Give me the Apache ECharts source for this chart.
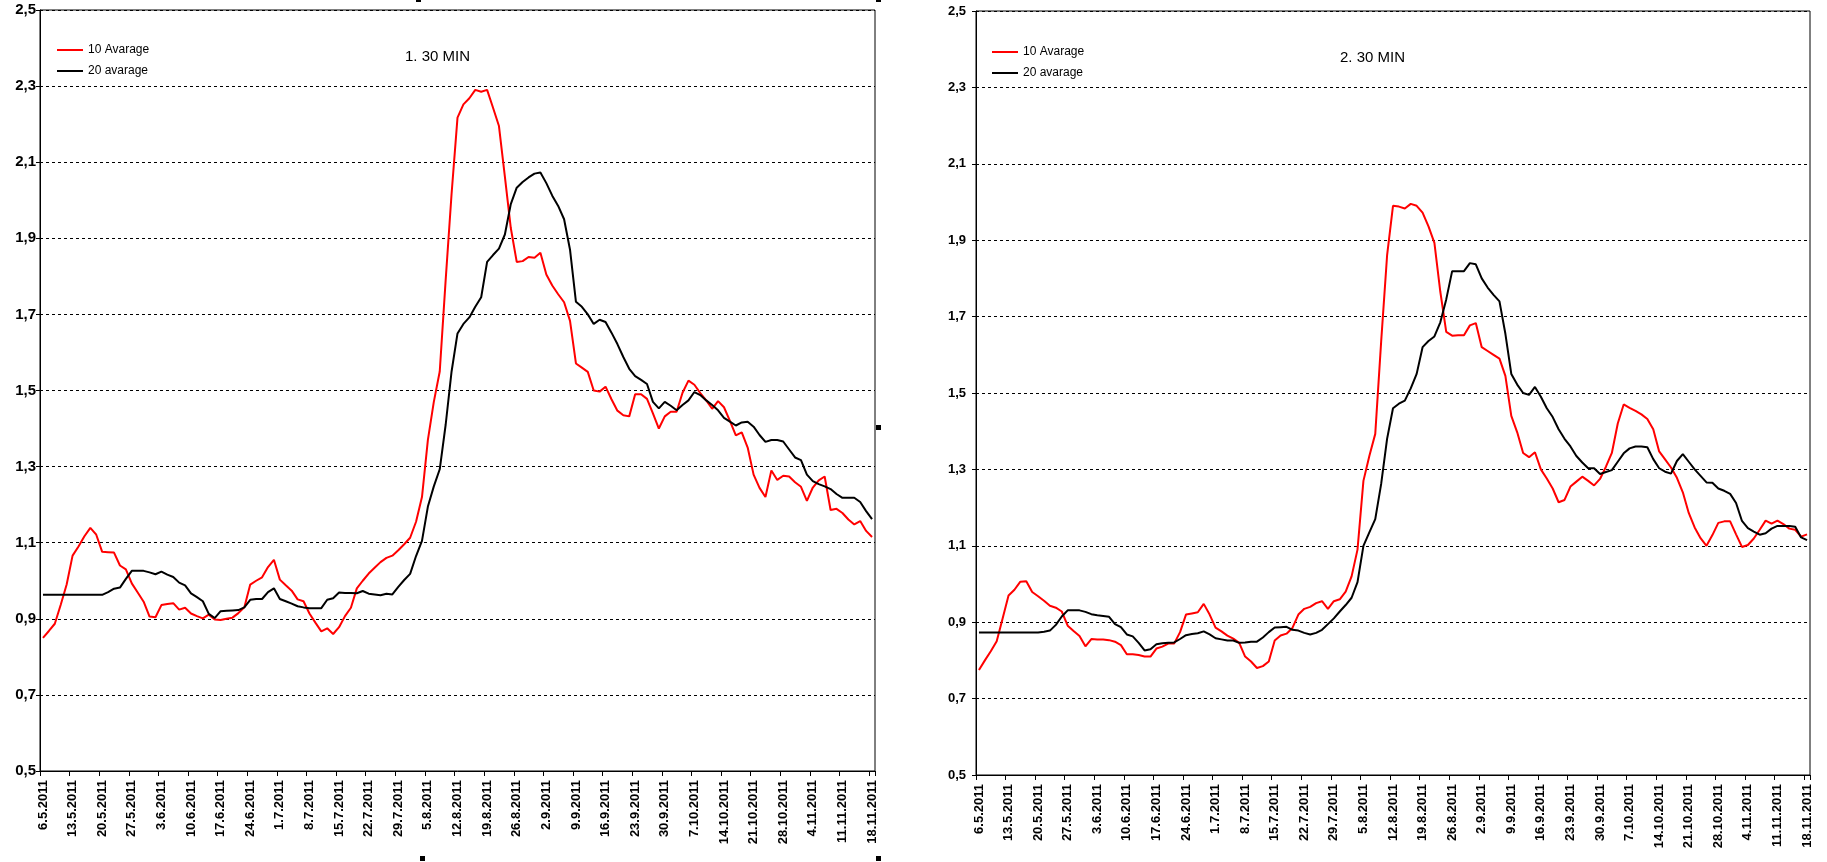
<!DOCTYPE html>
<html>
<head>
<meta charset="utf-8">
<script src="https://cdn.jsdelivr.net/npm/echarts@6/dist/echarts.min.js"></script>
<style>
html,body{margin:0;padding:0;background:#fff;}
#c{width:1827px;height:862px;}
</style>
</head>
<body>
<div id="c"></div>
<script>
// Trading days 6.5.2011 - 18.11.2011 (labels every 5th = Fridays)
const startDate = [2011, 4, 6];
const endDate = [2011, 10, 18];
const seriesNames = ['10 Avarage', '20 avarage'];
const chartTitles = ['1. 30 MIN', '2. 30 MIN'];
const yTicks = [0.5, 0.7, 0.9, 1.1, 1.3, 1.5, 1.7, 1.9, 2.1, 2.3, 2.5];

const left10 = [0.85,0.868,0.887,0.937,0.99,1.066,1.09,1.117,1.139,1.121,
1.076,1.075,1.074,1.04,1.03,0.993,0.969,0.945,0.906,0.904,
0.936,0.939,0.941,0.924,0.929,0.914,0.907,0.901,0.911,0.898,
0.897,0.9,0.903,0.915,0.93,0.99,1.0,1.009,1.036,1.055,
1.003,0.988,0.974,0.951,0.946,0.914,0.89,0.867,0.875,0.86,
0.878,0.907,0.929,0.98,1.0,1.019,1.034,1.049,1.06,1.066,
1.08,1.096,1.113,1.155,1.22,1.37,1.47,1.55,1.79,2.017,
2.217,2.252,2.268,2.29,2.285,2.29,2.243,2.195,2.062,1.927,
1.838,1.84,1.851,1.849,1.862,1.805,1.776,1.753,1.732,1.683,
1.571,1.56,1.549,1.5,1.497,1.51,1.477,1.447,1.435,1.432,
1.49,1.49,1.478,1.44,1.4,1.432,1.444,1.444,1.494,1.526,
1.515,1.493,1.474,1.452,1.472,1.456,1.42,1.382,1.39,1.35,
1.279,1.244,1.22,1.29,1.265,1.276,1.274,1.259,1.247,1.21,
1.245,1.264,1.274,1.186,1.189,1.178,1.161,1.148,1.157,1.131,
1.115];

const left20 = [0.963,0.963,0.963,0.963,0.963,0.963,0.963,0.963,0.963,0.963,
0.963,0.97,0.979,0.982,1.005,1.026,1.026,1.026,1.022,1.017,
1.024,1.016,1.01,0.995,0.988,0.967,0.957,0.946,0.913,0.902,
0.92,0.921,0.922,0.923,0.93,0.95,0.952,0.952,0.97,0.98,
0.952,0.946,0.94,0.933,0.93,0.928,0.928,0.928,0.95,0.954,
0.969,0.968,0.968,0.967,0.973,0.966,0.964,0.962,0.966,0.964,
0.984,1.002,1.018,1.065,1.105,1.195,1.248,1.293,1.41,1.55,
1.65,1.675,1.692,1.72,1.745,1.838,1.856,1.873,1.91,1.99,
2.033,2.048,2.06,2.07,2.073,2.045,2.012,1.985,1.95,1.87,
1.733,1.72,1.7,1.675,1.686,1.68,1.652,1.622,1.588,1.557,
1.538,1.528,1.517,1.47,1.453,1.47,1.46,1.448,1.462,1.474,
1.496,1.488,1.474,1.462,1.448,1.428,1.418,1.408,1.416,1.418,
1.405,1.383,1.365,1.37,1.37,1.366,1.345,1.324,1.317,1.279,
1.262,1.254,1.248,1.241,1.228,1.218,1.218,1.218,1.207,1.183,
1.162];

const right10 = [0.775,0.8,0.824,0.85,0.91,0.97,0.985,1.006,1.007,0.979,
0.968,0.956,0.943,0.938,0.928,0.891,0.877,0.864,0.837,0.856,
0.855,0.855,0.853,0.849,0.84,0.816,0.816,0.814,0.81,0.81,
0.831,0.836,0.844,0.844,0.874,0.92,0.923,0.926,0.948,0.92,
0.886,0.876,0.865,0.857,0.846,0.81,0.797,0.78,0.785,0.797,
0.852,0.865,0.87,0.885,0.92,0.935,0.94,0.95,0.955,0.935,
0.955,0.96,0.98,1.02,1.09,1.27,1.335,1.393,1.635,1.86,
1.99,1.988,1.983,1.995,1.99,1.972,1.936,1.893,1.765,1.66,
1.65,1.651,1.651,1.677,1.683,1.62,1.61,1.6,1.59,1.545,
1.44,1.397,1.343,1.332,1.345,1.3,1.276,1.25,1.214,1.22,
1.255,1.268,1.281,1.27,1.258,1.275,1.307,1.343,1.42,1.47,
1.461,1.453,1.444,1.432,1.405,1.347,1.326,1.305,1.278,1.24,
1.186,1.148,1.12,1.1,1.128,1.16,1.164,1.164,1.13,1.097,
1.102,1.119,1.142,1.166,1.158,1.166,1.157,1.145,1.142,1.124,
1.13];

const right20 = [0.873,0.873,0.873,0.873,0.873,0.873,0.873,0.873,0.873,0.873,
0.873,0.875,0.878,0.893,0.915,0.931,0.931,0.931,0.927,0.921,
0.918,0.916,0.914,0.895,0.887,0.868,0.863,0.846,0.826,0.829,
0.842,0.845,0.846,0.847,0.856,0.866,0.869,0.871,0.876,0.868,
0.858,0.855,0.852,0.852,0.846,0.847,0.849,0.849,0.86,0.874,
0.886,0.887,0.888,0.88,0.878,0.872,0.868,0.872,0.88,0.895,
0.91,0.928,0.945,0.964,1.005,1.1,1.135,1.17,1.262,1.38,
1.46,1.472,1.48,1.512,1.55,1.62,1.636,1.648,1.685,1.745,
1.819,1.819,1.819,1.84,1.837,1.8,1.776,1.757,1.74,1.655,
1.55,1.522,1.5,1.495,1.516,1.49,1.46,1.437,1.405,1.38,
1.36,1.335,1.318,1.303,1.303,1.288,1.293,1.298,1.32,1.342,
1.355,1.36,1.36,1.358,1.327,1.303,1.294,1.289,1.322,1.34,
1.32,1.3,1.283,1.266,1.265,1.25,1.244,1.236,1.212,1.165,
1.146,1.137,1.129,1.133,1.145,1.152,1.152,1.152,1.15,1.122,
1.115];

function buildCategories() {
  const out = [];
  const d = new Date(Date.UTC(startDate[0], startDate[1], startDate[2]));
  const end = new Date(Date.UTC(endDate[0], endDate[1], endDate[2]));
  while (d <= end) {
    const wd = d.getUTCDay();
    if (wd !== 0 && wd !== 6) {
      out.push(d.getUTCDate() + '.' + (d.getUTCMonth() + 1) + '.' + d.getUTCFullYear());
    }
    d.setUTCDate(d.getUTCDate() + 1);
  }
  return out;
}
const categories = buildCategories();

const FONT = "'Liberation Sans', Arial, sans-serif";
const RED = '#ff0000';
const BLACK = '#000000';

function xAxisCfg(gi) {
  return {
    type: 'category', gridIndex: gi, data: categories, boundaryGap: true,
    axisLine: { show: true, lineStyle: { color: '#000', width: 1 } },
    axisTick: { show: true, interval: 4, length: 5, lineStyle: { color: '#000' } },
    axisLabel: { interval: 4, rotate: 90, margin: 9, color: '#000',
      fontFamily: FONT, fontWeight: 'bold', fontSize: 13 },
    splitLine: { show: false }
  };
}
function yAxisCfg(gi, fs, margin) {
  return {
    type: 'value', gridIndex: gi, min: yTicks[0], max: yTicks[yTicks.length - 1], interval: 0.2,
    axisLine: { show: true, lineStyle: { color: '#000', width: 1 } },
    axisTick: { show: true, length: 4, lineStyle: { color: '#000' } },
    axisLabel: { margin: margin, color: '#000', fontFamily: FONT, fontWeight: 'bold', fontSize: fs,
      formatter: v => v.toFixed(1).replace('.', ',') },
    splitLine: { show: true, lineStyle: { color: '#000', width: 1, type: [3, 3] } }
  };
}
function lineSeries(name, data, color, gi) {
  return {
    type: 'line', name: name, data: data, xAxisIndex: gi, yAxisIndex: gi,
    symbol: 'none', smooth: false, color: color,
    itemStyle: { color: color },
    lineStyle: { color: color, width: 2 },
    emphasis: { disabled: true }
  };
}
function legendCfg(left, top) {
  return {
    show: true, orient: 'vertical', left: left, top: top, padding: 0,
    icon: 'rect', itemWidth: 26, itemHeight: 2, itemGap: 7,
    data: seriesNames,
    textStyle: { color: '#000', fontFamily: FONT, fontSize: 12, lineHeight: 14 }
  };
}

const chart = echarts.init(document.getElementById('c'), null, { renderer: 'canvas' });
chart.setOption({
  backgroundColor: '#fff',
  animation: false,
  title: [
    { text: chartTitles[0], left: 400, top: 44, textStyle: { color: '#000', fontFamily: FONT, fontSize: 15, fontWeight: 'normal' } },
    { text: chartTitles[1], left: 1335, top: 45, textStyle: { color: '#000', fontFamily: FONT, fontSize: 15, fontWeight: 'normal' } }
  ],
  legend: [ legendCfg(57, 43), legendCfg(992, 45) ],
  grid: [
    { left: 40, top: 10, width: 835, height: 761, show: true, borderColor: '#000', borderWidth: 1, backgroundColor: 'transparent', containLabel: false },
    { left: 976, top: 11, width: 834, height: 764, show: true, borderColor: '#000', borderWidth: 1, backgroundColor: 'transparent', containLabel: false }
  ],
  xAxis: [ xAxisCfg(0), xAxisCfg(1) ],
  yAxis: [ yAxisCfg(0, 15, 4), yAxisCfg(1, 13, 10) ],
  series: [
    lineSeries(seriesNames[0], left10, RED, 0),
    lineSeries(seriesNames[1], left20, BLACK, 0),
    lineSeries(seriesNames[0], right10, RED, 1),
    lineSeries(seriesNames[1], right20, BLACK, 1)
  ],
  graphic: [
    { type: 'rect', shape: { x: 416, y: -3, width: 5, height: 5 }, style: { fill: '#000' } },
    { type: 'rect', shape: { x: 876, y: -3, width: 5, height: 5 }, style: { fill: '#000' } },
    { type: 'rect', shape: { x: 876, y: 425, width: 5, height: 5 }, style: { fill: '#000' } },
    { type: 'rect', shape: { x: 420, y: 856, width: 5, height: 5 }, style: { fill: '#000' } },
    { type: 'rect', shape: { x: 876, y: 856, width: 5, height: 5 }, style: { fill: '#000' } }
  ]
});
</script>
</body>
</html>
